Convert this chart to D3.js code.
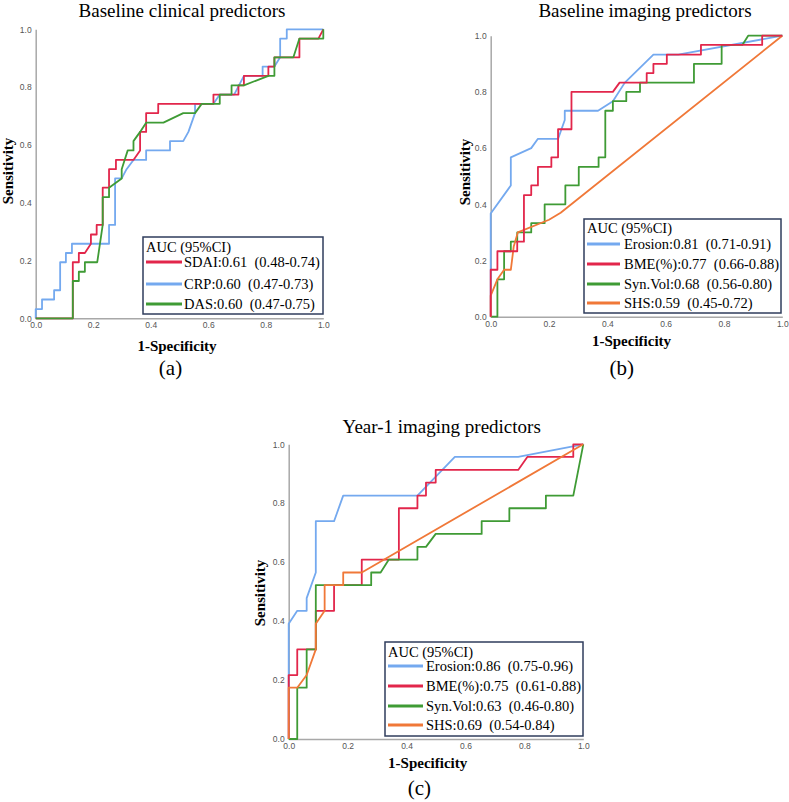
<!DOCTYPE html>
<html>
<head>
<meta charset="utf-8">
<script src="https://cdn.jsdelivr.net/npm/d3@7"></script>
<style>
  body { margin: 0; background: #fff; }
  svg { display: block; }
</style>
</head>
<body>
<svg id="chart" width="789" height="802"></svg>
<script>
// ROC points [1-specificity, sensitivity]

// (a) baseline clinical predictors
var sdaiA = [[0,0],[0.129,0],[0.129,0.194],[0.15,0.194],[0.15,0.226],[0.171,0.226],[0.192,0.258],[0.192,0.29],[0.212,0.29],[0.212,0.323],[0.233,0.323],[0.233,0.452],[0.255,0.452],[0.255,0.516],[0.279,0.516],[0.279,0.548],[0.34,0.548],[0.363,0.581],[0.363,0.645],[0.384,0.645],[0.384,0.71],[0.426,0.71],[0.426,0.742],[0.618,0.742],[0.618,0.774],[0.705,0.774],[0.705,0.806],[0.724,0.806],[0.724,0.839],[0.809,0.839],[0.809,0.871],[0.83,0.871],[0.83,0.903],[0.917,0.903],[0.917,0.968],[0.983,0.968],[1,1]];
var crpA = [[0,0],[0,0.032],[0.022,0.032],[0.022,0.065],[0.064,0.065],[0.064,0.097],[0.085,0.097],[0.085,0.194],[0.105,0.194],[0.105,0.226],[0.126,0.226],[0.126,0.258],[0.255,0.258],[0.255,0.323],[0.276,0.323],[0.276,0.484],[0.299,0.484],[0.316,0.516],[0.34,0.548],[0.384,0.548],[0.384,0.581],[0.467,0.581],[0.467,0.613],[0.513,0.613],[0.531,0.645],[0.554,0.71],[0.554,0.742],[0.618,0.742],[0.64,0.774],[0.69,0.774],[0.724,0.839],[0.789,0.839],[0.789,0.871],[0.83,0.871],[0.85,0.903],[0.85,0.968],[0.873,0.968],[0.873,1],[1,1]];
var dasA = [[0,0],[0.129,0],[0.129,0.129],[0.15,0.129],[0.15,0.161],[0.171,0.161],[0.171,0.194],[0.214,0.194],[0.233,0.323],[0.233,0.419],[0.255,0.419],[0.255,0.452],[0.299,0.484],[0.299,0.516],[0.32,0.581],[0.34,0.581],[0.34,0.613],[0.363,0.645],[0.384,0.677],[0.444,0.677],[0.513,0.71],[0.554,0.71],[0.577,0.742],[0.64,0.742],[0.64,0.774],[0.681,0.774],[0.681,0.806],[0.724,0.806],[0.809,0.839],[0.83,0.839],[0.83,0.903],[0.896,0.903],[0.917,0.968],[1,0.968],[1,1]];

// (b) baseline imaging predictors
var erosionB = [[0,0],[0,0.367],[0.069,0.467],[0.069,0.567],[0.139,0.6],[0.162,0.633],[0.231,0.633],[0.254,0.7],[0.254,0.733],[0.368,0.733],[0.419,0.767],[0.46,0.833],[0.558,0.933],[0.643,0.933],[1,1]];
var bmeB = [[0,0],[0,0.167],[0.023,0.167],[0.023,0.233],[0.091,0.233],[0.091,0.267],[0.114,0.267],[0.114,0.433],[0.139,0.433],[0.139,0.467],[0.162,0.467],[0.162,0.533],[0.208,0.533],[0.208,0.567],[0.231,0.567],[0.231,0.667],[0.277,0.667],[0.277,0.8],[0.419,0.8],[0.442,0.833],[0.535,0.833],[0.535,0.867],[0.558,0.867],[0.558,0.9],[0.604,0.9],[0.604,0.933],[0.721,0.933],[0.721,0.967],[0.931,0.967],[0.931,1],[1,1]];
var synvolB = [[0,0],[0.023,0],[0.023,0.133],[0.046,0.133],[0.046,0.233],[0.069,0.233],[0.069,0.267],[0.091,0.267],[0.091,0.3],[0.139,0.3],[0.139,0.333],[0.185,0.333],[0.185,0.4],[0.256,0.4],[0.256,0.467],[0.302,0.467],[0.302,0.533],[0.37,0.533],[0.37,0.567],[0.393,0.567],[0.393,0.733],[0.419,0.733],[0.419,0.767],[0.465,0.767],[0.465,0.8],[0.512,0.8],[0.512,0.833],[0.697,0.833],[0.697,0.9],[0.792,0.9],[0.792,0.967],[0.863,0.967],[0.883,1],[1,1]];
var shsB = [[0,0],[0,0.075],[0.023,0.133],[0.046,0.167],[0.069,0.167],[0.079,0.25],[0.093,0.3],[0.2,0.345],[0.24,0.37],[1,1]];

// (c) year-1 imaging predictors
var erosionC = [[0,0],[0,0.391],[0.029,0.435],[0.061,0.435],[0.061,0.478],[0.092,0.565],[0.092,0.739],[0.154,0.739],[0.185,0.826],[0.437,0.826],[0.564,0.957],[0.779,0.957],[1,1]];
var bmeC = [[0,0],[0,0.217],[0.029,0.217],[0.029,0.304],[0.092,0.304],[0.092,0.435],[0.154,0.435],[0.154,0.522],[0.248,0.522],[0.248,0.609],[0.374,0.609],[0.374,0.783],[0.437,0.783],[0.437,0.826],[0.466,0.826],[0.466,0.87],[0.499,0.87],[0.499,0.913],[0.779,0.913],[0.81,0.957],[0.966,0.957],[0.966,1],[1,1]];
var synvolC = [[0,0],[0.029,0],[0.029,0.174],[0.061,0.174],[0.061,0.304],[0.092,0.304],[0.092,0.522],[0.28,0.522],[0.28,0.565],[0.312,0.565],[0.34,0.609],[0.437,0.609],[0.437,0.652],[0.466,0.652],[0.499,0.696],[0.655,0.696],[0.655,0.739],[0.749,0.739],[0.749,0.783],[0.873,0.783],[0.873,0.826],[0.966,0.826],[1,1]];
var shsC = [[0,0],[0,0.174],[0.029,0.174],[0.061,0.217],[0.092,0.304],[0.092,0.391],[0.122,0.435],[0.122,0.522],[0.185,0.522],[0.185,0.565],[0.248,0.565],[1,1]];

var legendA = ["SDAI:0.61  (0.48-0.74)", "CRP:0.60  (0.47-0.73)", "DAS:0.60  (0.47-0.75)"];
var legendB = ["Erosion:0.81  (0.71-0.91)", "BME(%):0.77  (0.66-0.88)", "Syn.Vol:0.68  (0.56-0.80)", "SHS:0.59  (0.45-0.72)"];
var legendC = ["Erosion:0.86  (0.75-0.96)", "BME(%):0.75  (0.61-0.88)", "Syn.Vol:0.63  (0.46-0.80)", "SHS:0.69  (0.54-0.84)"];
var ticks = [0, 0.2, 0.4, 0.6, 0.8, 1.0];

var BLUE = "#74a9ef", RED = "#e2264b", GREEN = "#3f9b35", ORANGE = "#f07838";
var SERIF = "'Liberation Serif','Times New Roman',serif";
var SANS = "'Liberation Sans',Arial,sans-serif";

var svg = d3.select("#chart");
svg.append("rect").attr("width", 789).attr("height", 802).attr("fill", "#fff");

function panel(p) {
	var x = d3.scaleLinear().domain([0, 1]).range([p.left, p.right]);
	var y = d3.scaleLinear().domain([0, 1]).range([p.bottom, p.top]);
	var g = svg.append("g");

	var yAxis = g.append("g")
		.attr("transform", "translate(" + p.left + ",0)")
		.call(d3.axisLeft(y).tickValues(ticks).tickFormat(d3.format(".1f")).tickSize(0).tickPadding(4));
	var xAxis = g.append("g")
		.attr("transform", "translate(0," + p.bottom + ")")
		.call(d3.axisBottom(x).tickValues(ticks).tickFormat(d3.format(".1f")).tickSize(0).tickPadding(4));
	[xAxis, yAxis].forEach(function(a){
		a.select(".domain").attr("stroke", "#a8a8a8").attr("stroke-width", 1.5);
		a.selectAll("text").attr("fill", "#555").style("font-family", SANS).style("font-size", "8.5px");
	});

	var line = d3.line().x(function(d){ return x(d[0]); }).y(function(d){ return y(d[1]); });
	p.order.forEach(function(i){
		var c = p.curves[i];
		g.append("path").datum(c.data)
			.attr("d", line)
			.attr("fill", "none")
			.attr("stroke", c.color)
			.attr("stroke-width", 1.8)
			.attr("stroke-linejoin", "round");
	});

	// titles
	g.append("text").attr("x", p.titleX).attr("y", p.titleY)
		.attr("text-anchor", "middle").style("font-family", SERIF).style("font-size", "19px")
		.text(p.title);
	g.append("text").attr("transform", "translate(" + p.ylabX + "," + p.ylabY + ") rotate(-90)")
		.attr("text-anchor", "middle").style("font-family", SERIF).style("font-size", "15px")
		.style("font-weight", "bold").text("Sensitivity");
	g.append("text").attr("x", p.xlabX).attr("y", p.xlabY)
		.attr("text-anchor", "middle").style("font-family", SERIF).style("font-size", "15px")
		.style("font-weight", "bold").text("1-Specificity");
	g.append("text").attr("x", p.tagX).attr("y", p.tagY)
		.attr("text-anchor", "middle").style("font-family", SERIF).style("font-size", "21px")
		.text(p.tag);

	// legend
	var L = p.legend;
	var lg = g.append("g");
	lg.append("rect").attr("x", L.x0).attr("y", L.y0)
		.attr("width", L.x1 - L.x0).attr("height", L.y1 - L.y0)
		.attr("fill", "#fff").attr("stroke", "#2f3d5c").attr("stroke-width", 1.5);
	lg.append("text").attr("x", L.x0 + 3).attr("y", L.titleY + 5)
		.style("font-family", SERIF).style("font-size", "14.5px").text("AUC (95%CI)");
	p.curves.forEach(function(c, i){
		var yy = L.rows[i];
		lg.append("line").attr("x1", L.x0 + 3).attr("x2", L.lineEnd)
			.attr("y1", yy).attr("y2", yy)
			.attr("stroke", c.color).attr("stroke-width", 3);
		lg.append("text").attr("x", L.textX).attr("y", yy + 5)
			.style("font-family", SERIF).style("font-size", "14.5px").style("white-space", "pre")
			.text(L.labels[i]);
	});
}

panel({
	left: 35.7, right: 323.3, top: 29.3, bottom: 318.3,
	title: "Baseline clinical predictors", titleX: 182, titleY: 17,
	ylabX: 13, ylabY: 171, xlabX: 177, xlabY: 351, tag: "(a)", tagX: 170.5, tagY: 375,
	curves: [{data: sdaiA, color: RED}, {data: crpA, color: BLUE}, {data: dasA, color: GREEN}],
	order: [1, 0, 2],
	legend: {x0: 143, x1: 323, y0: 237, y1: 314, titleY: 247, rows: [262, 284, 304], lineEnd: 182, textX: 184,
		labels: legendA}
});

panel({
	left: 490.7, right: 782.3, top: 35.7, bottom: 316.7,
	title: "Baseline imaging predictors", titleX: 645, titleY: 17,
	ylabX: 470, ylabY: 172, xlabX: 631.5, xlabY: 346, tag: "(b)", tagX: 621.7, tagY: 375,
	curves: [{data: erosionB, color: BLUE}, {data: bmeB, color: RED}, {data: synvolB, color: GREEN}, {data: shsB, color: ORANGE}],
	order: [0, 2, 3, 1],
	legend: {x0: 584, x1: 781, y0: 219, y1: 313, titleY: 228, rows: [244, 264, 284, 303], lineEnd: 620, textX: 624,
		labels: legendB}
});

panel({
	left: 288.7, right: 583.3, top: 444.3, bottom: 739,
	title: "Year-1 imaging predictors", titleX: 441.7, titleY: 433,
	ylabX: 265, ylabY: 593, xlabX: 427.7, xlabY: 768, tag: "(c)", tagX: 419.3, tagY: 795,
	curves: [{data: erosionC, color: BLUE}, {data: bmeC, color: RED}, {data: synvolC, color: GREEN}, {data: shsC, color: ORANGE}],
	order: [0, 1, 2, 3],
	legend: {x0: 385, x1: 583, y0: 642, y1: 736, titleY: 652, rows: [666, 686, 706, 725], lineEnd: 423, textX: 426,
		labels: legendC}
});
</script>
</body>
</html>
